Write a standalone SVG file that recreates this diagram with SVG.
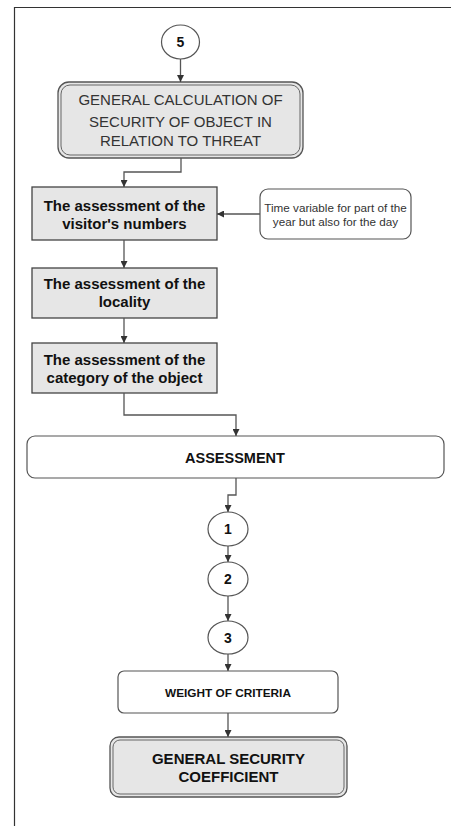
<svg xmlns="http://www.w3.org/2000/svg" width="451" height="826" viewBox="0 0 451 826">
  <defs>
    <marker id="arrow" viewBox="0 0 10 10" refX="10" refY="5" markerWidth="7" markerHeight="7" markerUnits="userSpaceOnUse" orient="auto">
      <path d="M0,0 L10,5 L0,10 z" fill="#333"/>
    </marker>
    <style>
      .frame { fill: none; stroke: #333; stroke-width: 1.2; }
      .gray { fill: #e6e6e6; stroke: #444; stroke-width: 1.3; }
      .white { fill: #fff; stroke: #555; stroke-width: 1.2; }
      .outer { fill: #e6e6e6; stroke: #555; stroke-width: 1.3; }
      .inner { fill: none; stroke: #666; stroke-width: 1; }
      .edge { fill: none; stroke: #555; stroke-width: 1.3; marker-end: url(#arrow); }
      text { font-family: "Liberation Sans", Arial, sans-serif; fill: #111; text-anchor: middle; }
      .reg { font-size: 15px; fill: #333; }
      .bold { font-size: 15px; font-weight: bold; }
      .note { font-size: 11.7px; fill: #333; }
      .small { font-size: 11.8px; font-weight: bold; }
      .num { font-size: 14px; font-weight: bold; }
    </style>
  </defs>

  <!-- page frame -->
  <path class="frame" d="M14.5,826 V7.5 H451"/>

  <g id="node-5">
    <ellipse cx="180.5" cy="42" rx="19" ry="17" class="white"/>
    <text x="180.5" y="47" class="num">5</text>
  </g>

  <g id="general-calculation">
    <rect x="58" y="82" width="245" height="76" rx="11" class="outer"/>
    <rect x="61" y="85" width="239" height="70" rx="9" class="inner"/>
    <text x="180.5" y="105" class="reg">GENERAL CALCULATION OF</text>
    <text x="180.5" y="127" class="reg">SECURITY OF OBJECT IN</text>
    <text x="180.5" y="146" class="reg">RELATION TO THREAT</text>
  </g>

  <g id="visitors">
    <rect x="32" y="187" width="185" height="53" class="gray"/>
    <text x="124.5" y="211" class="bold">The assessment of the</text>
    <text x="124.5" y="229" class="bold">visitor's numbers</text>
  </g>

  <g id="time-variable">
    <rect x="260" y="189" width="151" height="50" rx="8" class="white"/>
    <text x="335.5" y="212" class="note">Time variable for part of the</text>
    <text x="335.5" y="226" class="note">year but also for the day</text>
  </g>

  <g id="locality">
    <rect x="32" y="268" width="185" height="50" class="gray"/>
    <text x="124.5" y="289" class="bold">The assessment of the</text>
    <text x="124.5" y="307" class="bold">locality</text>
  </g>

  <g id="category">
    <rect x="32" y="343" width="185" height="50" class="gray"/>
    <text x="124.5" y="365" class="bold">The assessment of the</text>
    <text x="124.5" y="383" class="bold">category of the object</text>
  </g>

  <g id="assessment">
    <rect x="27" y="436" width="417" height="42" rx="8" class="white"/>
    <text x="235" y="463" class="bold" style="font-size:14.5px">ASSESSMENT</text>
  </g>

  <g id="node-1">
    <ellipse cx="228" cy="529" rx="20" ry="17" class="white"/>
    <text x="228" y="534" class="num">1</text>
  </g>

  <g id="node-2">
    <ellipse cx="228" cy="579" rx="20" ry="17" class="white"/>
    <text x="228" y="584" class="num">2</text>
  </g>

  <g id="node-3">
    <ellipse cx="228" cy="637.5" rx="20" ry="16.5" class="white"/>
    <text x="228" y="642.5" class="num">3</text>
  </g>

  <g id="weight">
    <rect x="118" y="671" width="220" height="42" rx="6" class="white"/>
    <text x="228" y="697" class="small">WEIGHT OF CRITERIA</text>
  </g>

  <g id="coefficient">
    <rect x="110" y="737" width="237" height="60" rx="9" class="outer"/>
    <rect x="113" y="740" width="231" height="54" rx="7" class="inner"/>
    <text x="228.5" y="764" class="bold">GENERAL SECURITY</text>
    <text x="228.5" y="782" class="bold">COEFFICIENT</text>
  </g>

  <g id="connectors">
    <path class="edge" d="M180.5,59 V82"/>
    <path class="edge" d="M181,158 V172 H124 V187"/>
    <path class="edge" d="M260,214 H217"/>
    <path class="edge" d="M124,240 V268"/>
    <path class="edge" d="M124,318 V343"/>
    <path class="edge" d="M124,393 V415 H236 V436"/>
    <path class="edge" d="M236,478 V495 H228 V512"/>
    <path class="edge" d="M228,546 V562"/>
    <path class="edge" d="M228,596 V621"/>
    <path class="edge" d="M228,654 V671"/>
    <path class="edge" d="M228,713 V737"/>
  </g>
</svg>
